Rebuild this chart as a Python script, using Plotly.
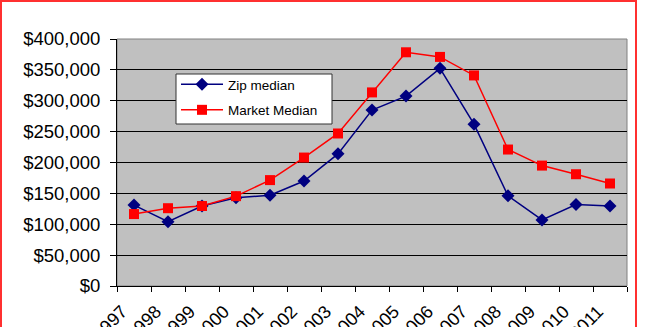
import plotly.graph_objects as go

# Median home prices by year
years = ["1997", "1998", "1999", "2000", "2001", "2002", "2003", "2004",
         "2005", "2006", "2007", "2008", "2009", "2010", "2011"]
zip_median = [131000, 104000, 129500, 143000, 147000, 170000, 214000, 285000,
              307500, 352500, 262000, 146000, 107000, 132000, 129500]
market_median = [116500, 126000, 129500, 145500, 171500, 208000, 247000, 313500,
                 378500, 371000, 341000, 221000, 195000, 181000, 166000]
y_ticks = [0, 50000, 100000, 150000, 200000, 250000, 300000, 350000, 400000]

W, H = 650, 327
L, R, T, B = 117, 23, 39, 41
pw, ph = W - L - R, H - T - B


def px_x(x):
    return (x - L) / pw


def px_y(y):
    return (T + ph - y) / ph


fig = go.Figure()
fig.add_trace(go.Scatter(
    x=years, y=zip_median, name="Zip median", mode="lines+markers",
    legendgroup="zip",
    line=dict(color="#000080", width=1.5),
    marker=dict(symbol="diamond", size=10, color="#000080"),
))
fig.add_trace(go.Scatter(
    x=years, y=market_median, name="Market Median", mode="lines+markers",
    legendgroup="market",
    line=dict(color="#ff0000", width=1.5),
    marker=dict(symbol="square", size=10, color="#ff0000"),
))

font = "Liberation Sans, Arial, sans-serif"

fig.update_layout(
    width=W, height=H,
    margin=dict(l=L, r=R, t=T, b=B, pad=0),
    paper_bgcolor="white",
    plot_bgcolor="#c0c0c0",
    font=dict(family=font, color="black"),
    showlegend=True,
    legend=dict(
        x=px_x(176), y=px_y(69), xanchor="left", yanchor="top",
        bgcolor="rgba(0,0,0,0)", borderwidth=0,
        font=dict(size=13.5, family=font, color="black"),
        itemwidth=42, tracegroupgap=5,
    ),
    xaxis=dict(
        type="category", tickson="boundaries", ticks="outside", ticklen=5,
        tickcolor="black", showline=True, linecolor="black", linewidth=1,
        showgrid=False, tickangle=-45, tickfont=dict(size=18, family=font),
        ticklabelstandoff=7, ticklabelshift=-12,
        range=[-0.5, 14.5], automargin=False,
    ),
    yaxis=dict(
        range=[0, 400000], tickvals=y_ticks,
        ticktext=["$" + format(v, ",") for v in y_ticks],
        ticks="outside", ticklen=6, tickcolor="black",
        showline=True, linecolor="black", linewidth=1,
        showgrid=True, gridcolor="black", gridwidth=1,
        tickfont=dict(size=18.5, family=font), zeroline=False,
        ticklabelstandoff=6, automargin=False,
    ),
    shapes=[
        # plot area frame (top and right edges)
        dict(type="rect", xref="paper", yref="paper", x0=0, x1=1, y0=0, y1=1,
             line=dict(color="#808080", width=1), layer="below"),
        # legend box
        dict(type="rect", xref="paper", yref="paper",
             x0=px_x(176), x1=px_x(332), y0=px_y(124), y1=px_y(74),
             fillcolor="white", line=dict(color="#333333", width=1),
             layer="above"),
        # chart outer border
        dict(type="rect", xref="paper", yref="paper",
             x0=px_x(1), x1=px_x(636), y0=px_y(345), y1=px_y(1),
             line=dict(color="#ff3030", width=2)),
    ],
)

fig.write_html("out.html")
